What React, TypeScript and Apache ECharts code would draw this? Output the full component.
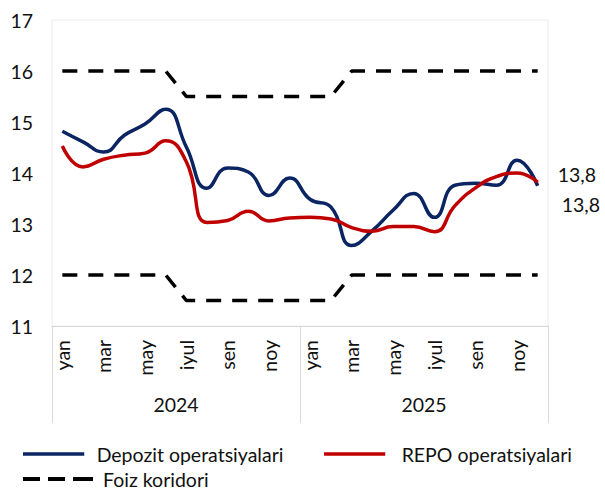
import { useEffect, useRef } from 'react';
import * as echarts from 'echarts';

const FONT = 'Lato';
const TEXT = '#111111';
const FS = 19.5;

const months = ['yan', 'fev', 'mar', 'apr', 'may', 'iyun', 'iyul', 'avg', 'sen', 'okt', 'noy', 'dek'];
const years = ['2024', '2025'];
const categories = years.flatMap((y) => months.map((m) => `${y}-${m}`));

const depozit = [
  14.82, 14.61, 14.41, 14.74, 14.96, 15.25, 14.51, 13.70, 14.10, 14.02, 13.56, 13.90,
  13.48, 13.33, 12.58, 12.87, 13.27, 13.60, 13.13, 13.76, 13.80, 13.76, 14.25, 13.75,
];
const repo = [
  14.53, 14.12, 14.27, 14.35, 14.39, 14.63, 14.22, 13.03, 13.07, 13.25, 13.06, 13.12,
  13.13, 13.10, 12.93, 12.86, 12.95, 12.95, 12.85, 13.36, 13.71, 13.93, 14.00, 13.82,
];
const corridorUpper = [
  16, 16, 16, 16, 16, 16, 15.5, 15.5, 15.5, 15.5, 15.5, 15.5,
  15.5, 15.5, 16, 16, 16, 16, 16, 16, 16, 16, 16, 16,
];
const corridorLower = [
  12, 12, 12, 12, 12, 12, 11.5, 11.5, 11.5, 11.5, 11.5, 11.5,
  11.5, 11.5, 12, 12, 12, 12, 12, 12, 12, 12, 12, 12,
];
const yTicks = { min: 11, max: 17, interval: 1 };

const BLUE = '#0b2462';
const RED = '#c00000';
const fmt = (v: number) => v.toFixed(1).replace('.', ',');

const SOLID_ICON = 'path://M0,0h70v4h-70z';
const DASH_ICON = 'path://M0,0h17v4h-17z M25,0h17v4h-17z M50,0h20v4h-20z';

export default function App() {
  const ref = useRef<HTMLDivElement>(null);
  useEffect(() => {
    document.body.style.margin = '0';
    if (!ref.current) return;
    const chart = echarts.init(ref.current, undefined, { renderer: 'svg' });
    const legendText = { fontSize: FS, color: TEXT, fontFamily: FONT, lineHeight: 20 };
    const option: any = {
      animation: false,
      textStyle: { fontFamily: FONT },
      grid: {
        left: 52, right: 57, top: 20, bottom: 164,
        show: true, borderColor: '#ececec', borderWidth: 1,
      },
      legend: [
        {
          data: [{ name: 'Depozit operatsiyalari', icon: SOLID_ICON }], left: 23, top: 444, padding: 0,
          itemWidth: 70, itemHeight: 3.5,
          textStyle: { ...legendText, padding: [0, 0, 0, 3] },
        },
        {
          data: [{ name: 'REPO operatsiyalari', icon: SOLID_ICON }], left: 324, top: 444, padding: 0,
          itemWidth: 72, itemHeight: 3.5,
          textStyle: { ...legendText, padding: [0, 0, 0, 6] },
        },
        {
          data: [{ name: 'Foiz koridori', icon: DASH_ICON }], left: 23, top: 469, padding: 0,
          itemWidth: 70, itemHeight: 4,
          textStyle: { ...legendText, padding: [0, 0, 0, 5] },
        },
      ],
      xAxis: [
        {
          type: 'category', data: categories, boundaryGap: true,
          axisLine: { show: true, lineStyle: { color: '#d9d9d9', width: 1 } },
          axisTick: { show: false },
          splitLine: { show: false },
          axisLabel: {
            interval: 1, rotate: 90, margin: 14, fontSize: FS, color: TEXT, fontFamily: FONT,
            formatter: (v: string) => v.split('-')[1],
          },
        },
        {
          type: 'category', data: years, position: 'bottom', gridIndex: 0, boundaryGap: true,
          min: 0, max: 1,
          axisLine: { show: false },
          axisTick: { show: true, length: 97, lineStyle: { color: '#d9d9d9', width: 1 } },
          splitLine: { show: false },
          axisLabel: { margin: 68, fontSize: FS, color: TEXT, fontFamily: FONT },
        },
      ],
      yAxis: {
        type: 'value', min: yTicks.min, max: yTicks.max, interval: yTicks.interval,
        axisLine: { show: false }, axisTick: { show: false }, splitLine: { show: false },
        axisLabel: { margin: 19, fontSize: FS, color: TEXT, fontFamily: FONT },
      },
      series: [
        {
          name: 'Foiz koridori', type: 'line', data: corridorUpper, xAxisIndex: 0,
          symbol: 'none', smooth: false,
          lineStyle: { color: '#000', width: 3.5, type: [15, 11], cap: 'butt' },
          itemStyle: { color: '#000' },
        },
        {
          name: 'Foiz koridori', type: 'line', data: corridorLower, xAxisIndex: 0,
          symbol: 'none', smooth: false,
          lineStyle: { color: '#000', width: 3.5, type: [15, 11], cap: 'butt' },
          itemStyle: { color: '#000' },
        },
        {
          name: 'Depozit operatsiyalari', type: 'line', data: depozit, xAxisIndex: 0,
          symbol: 'none', smooth: 0.5,
          lineStyle: { color: BLUE, width: 3.5 },
          itemStyle: { color: BLUE },
          endLabel: {
            show: true, formatter: (p: any) => fmt(p.value), distance: 24, offset: [0, 19],
            fontSize: FS, color: TEXT, fontFamily: FONT,
          },
        },
        {
          name: 'REPO operatsiyalari', type: 'line', data: repo, xAxisIndex: 0,
          symbol: 'none', smooth: 0.5,
          lineStyle: { color: RED, width: 3.5 },
          itemStyle: { color: RED },
          endLabel: {
            show: true, formatter: (p: any) => fmt(p.value), distance: 20, offset: [0, -8],
            fontSize: FS, color: TEXT, fontFamily: FONT,
          },
        },
      ],
    };
    chart.setOption(option);
    return () => chart.dispose();
  }, []);
  return <div ref={ref} style={{ width: 605, height: 490 }} />;
}
